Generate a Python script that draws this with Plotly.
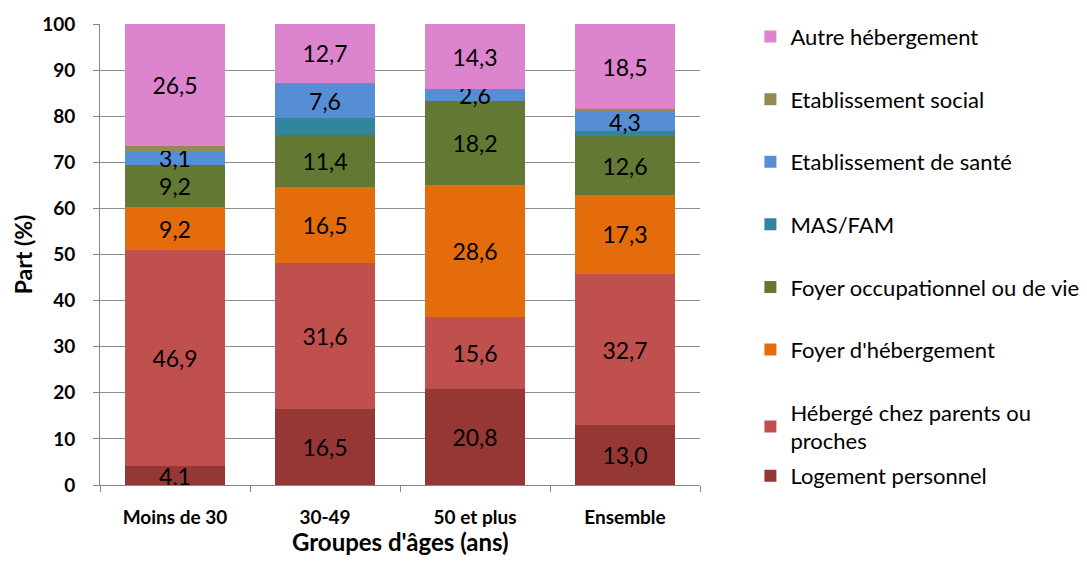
import plotly.graph_objects as go

categories = ["Moins de 30", "30-49", "50 et plus", "Ensemble"]
series_names = [
    "Logement personnel",
    "Hébergé chez parents ou<br>proches",
    "Foyer d'hébergement",
    "Foyer occupationnel ou de vie",
    "MAS/FAM",
    "Etablissement de santé",
    "Etablissement social",
    "Autre hébergement",
]
logement = [4.1, 16.5, 20.8, 13.0]
heberge = [46.9, 31.6, 15.6, 32.7]
foyer_heb = [9.2, 16.5, 28.6, 17.3]
foyer_occ = [9.2, 11.4, 18.2, 12.6]
mas_fam = [0.0, 3.6, 0.0, 1.1]
sante = [3.1, 7.6, 2.6, 4.3]
social = [1.0, 0.1, 0.0, 0.5]
autre = [26.5, 12.7, 14.3, 18.5]
labelled = [True, True, True, True, False, True, False, True]
x_title = "Groupes d'âges (ans)"
y_title = "Part (%)"

colors = ["#953735", "#C0504D", "#E46C0A", "#627833", "#31859C", "#558ED5", "#948A54", "#DD84CF"]
values = [logement, heberge, foyer_heb, foyer_occ, mas_fam, sante, social, autre]

FONT = "Lato"
fig = go.Figure()
n = len(series_names)
for i, (name, vals, col, lab) in enumerate(zip(series_names, values, colors, labelled)):
    txt = [("%.1f" % v).replace(".", ",") if (lab and v > 0) else "" for v in vals]
    fig.add_trace(go.Bar(
        x=categories, y=vals, name=name, marker=dict(color=col, line=dict(width=0)),
        text=txt, textposition="inside", insidetextanchor="middle", constraintext="none",
        textfont=dict(family=FONT, size=23, color="black"), textangle=0,
        legendgroup="g%d" % i, legendrank=100 + (n - i),
        legend="legend2" if i == 0 else "legend",
    ))

legend_common = dict(
    x=1.084, xanchor="left", yref="container", yanchor="top",
    traceorder="grouped", tracegroupgap=31, maxheight=545,
    font=dict(family=FONT, size=22, color="black"),
    bgcolor="rgba(0,0,0,0)",
)
fig.update_layout(
    barmode="stack", bargap=0.333,
    width=1079, height=555,
    margin=dict(l=92, r=387, t=16, b=78, autoexpand=False),
    plot_bgcolor="white", paper_bgcolor="white",
    font=dict(family=FONT, color="black"),
    legend=dict(legend_common, y=0.986),
    legend2=dict(legend_common, y=0.1946),
    showlegend=True,
)
fig.update_yaxes(
    range=[0, 100], dtick=10, tick0=0,
    showgrid=True, gridcolor="#8C8C8C", gridwidth=1,
    showline=True, linecolor="#868686", linewidth=1,
    ticks="outside", ticklen=6, tickcolor="#868686", ticklabelstandoff=14,
    tickfont=dict(family=FONT, size=19, color="black", weight="bold"),
    title=dict(text="<b>" + y_title + "</b>", font=dict(family=FONT, size=23), standoff=3),
    zeroline=False,
)
fig.update_xaxes(
    showline=True, linecolor="#868686", linewidth=1,
    ticks="outside", ticklen=6, tickcolor="#868686", tickson="boundaries",
    ticklabelstandoff=15,
    tickfont=dict(family=FONT, size=19, color="black", weight="bold"),
)
fig.add_annotation(
    text="<b>" + x_title + "</b>", xref="paper", yref="paper",
    x=0.5, y=-0.1215, xanchor="center", yanchor="middle", showarrow=False,
    font=dict(family=FONT, size=24, color="black"),
)

fig.write_html("out.html")
